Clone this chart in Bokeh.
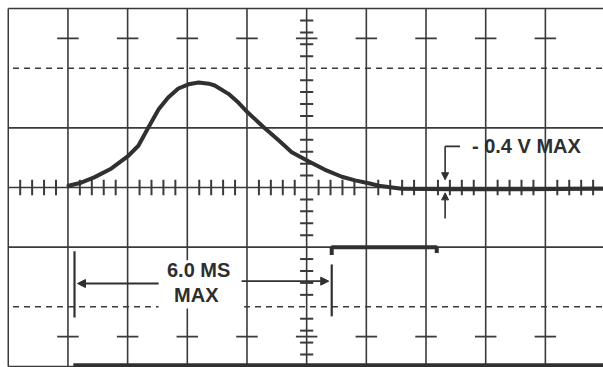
import numpy as np
from bokeh.plotting import figure
from bokeh.models import Arrow, NormalHead
from bokeh.core.properties import value
from bokeh.embed import file_html
from bokeh.resources import INLINE

# --- waveform (x, y in graticule divisions) ---
pulse_x = [1.01, 1.22, 1.44, 1.73, 2.00, 2.18, 2.35, 2.52, 2.68, 2.85, 3.02, 3.19, 3.36,
           3.46, 3.69, 3.86, 4.01, 4.28, 4.53, 4.75, 5.03, 5.30, 5.59, 5.81, 6.04, 6.21,
           6.59, 7.43, 8.61, 9.78, 9.98]
pulse_y = [0.03, 0.08, 0.17, 0.32, 0.52, 0.70, 1.01, 1.31, 1.51, 1.66, 1.73, 1.76, 1.74,
           1.71, 1.57, 1.42, 1.26, 1.01, 0.79, 0.59, 0.44, 0.30, 0.18, 0.12, 0.07, 0.03,
           -0.02, -0.03, -0.03, -0.02, -0.02]

# gate trace (lower) and bottom trace
gate_x = [5.42, 5.42, 7.18, 7.18]
gate_y = [-1.13, -1.0, -1.0, -1.1]
bottom_x = [1.09, 9.98]
bottom_y = [-2.98, -2.98]

# graticule
major_x = [1, 2, 3, 4, 5, 6, 7, 8, 9]
major_y_solid = [1, 0, -1]
dashed_y = [2, -2]
cross_y = [2.5, -2.5]

# annotation labels
label_pulse = ["6.0 MS", "MAX"]
label_pulse_x = [3.19, 3.15]
label_pulse_y = [-1.39, -1.81]
label_volt = ["- 0.4 V MAX"]
label_volt_x = [7.77]
label_volt_y = [0.70]

GRID = "#3a3a3a"
TRACE = "#303030"

p = figure(width=603, height=367, x_range=(-0.13, 9.974), y_range=(-3.018, 3.135),
           output_backend="svg", toolbar_location=None, min_border=0)
p.axis.visible = False
p.grid.visible = False
p.outline_line_color = None
p.background_fill_color = "white"
p.border_fill_color = "white"

# borders
p.segment(x0=[0], y0=[-3], x1=[0], y1=[3], line_color=GRID, line_width=1.5)
p.segment(x0=[0], y0=[3], x1=[10], y1=[3], line_color=GRID, line_width=1.5)
p.segment(x0=[0], y0=[-3], x1=[10], y1=[-3], line_color=GRID, line_width=1.5)

# vertical grid lines
p.segment(x0=major_x, y0=[-3] * len(major_x), x1=major_x, y1=[3] * len(major_x),
          line_color=GRID, line_width=1.6)
# horizontal solid grid lines
p.segment(x0=[0] * 3, y0=major_y_solid, x1=[10] * 3, y1=major_y_solid,
          line_color=GRID, line_width=1.6)
# dashed lines
p.segment(x0=[0.08] * 2, y0=dashed_y, x1=[10] * 2, y1=dashed_y,
          line_color=GRID, line_width=1.6, line_dash="6 5")

# crosses at +-2.5
cx = []
cy = []
for yy in cross_y:
    for xx in major_x:
        cx.append(xx)
        cy.append(yy)
p.segment(x0=[c - 0.18 for c in cx], y0=cy, x1=[c + 0.18 for c in cx], y1=cy,
          line_color=GRID, line_width=1.8)

# minor ticks on center horizontal axis
mt = [round(v, 1) for v in np.arange(0.2, 9.81, 0.2) if abs(v - round(v)) > 0.05]
p.segment(x0=mt, y0=[-0.13] * len(mt), x1=mt, y1=[0.13] * len(mt),
          line_color=GRID, line_width=2)
# minor ticks on center vertical axis
mv = [round(v, 1) for v in np.arange(-2.8, 2.81, 0.2) if abs(v - round(v)) > 0.05]
p.segment(x0=[4.89] * len(mv), y0=mv, x1=[5.11] * len(mv), y1=mv,
          line_color=GRID, line_width=2)

# white box behind label
p.quad(left=[2.52], right=[3.95], bottom=[-2.03], top=[-1.22],
       fill_color="white", line_color=None)

# traces
p.line(pulse_x, pulse_y, line_color=TRACE, line_width=4, line_join="round", line_cap="round")
p.line(gate_x, gate_y, line_color=TRACE, line_width=4)
p.line(bottom_x, bottom_y, line_color=TRACE, line_width=4)

# markers for 6.0 ms
p.segment(x0=[1.11, 5.42], y0=[-1.07, -1.29], x1=[1.11, 5.42], y1=[-2.18, -2.16],
          line_color=TRACE, line_width=2.2)
p.add_layout(Arrow(end=NormalHead(size=8, fill_color=TRACE, line_color=TRACE),
                   x_start=2.52, y_start=-1.61, x_end=1.16, y_end=-1.61,
                   line_color=TRACE, line_width=1.8))
p.add_layout(Arrow(end=NormalHead(size=8, fill_color=TRACE, line_color=TRACE),
                   x_start=3.91, y_start=-1.57, x_end=5.37, y_end=-1.57,
                   line_color=TRACE, line_width=1.8))

# 0.4 V bracket
p.segment(x0=[7.32], y0=[0.69], x1=[7.57], y1=[0.69], line_color=TRACE, line_width=1.8)
p.add_layout(Arrow(end=NormalHead(size=7, fill_color=TRACE, line_color=TRACE),
                   x_start=7.32, y_start=0.69, x_end=7.32, y_end=0.13,
                   line_color=TRACE, line_width=1.6))
p.add_layout(Arrow(end=NormalHead(size=7, fill_color=TRACE, line_color=TRACE),
                   x_start=7.32, y_start=-0.52, x_end=7.32, y_end=-0.09,
                   line_color=TRACE, line_width=1.6))

p.text(x=label_pulse_x, y=label_pulse_y, text=label_pulse, text_align="center",
       text_baseline="middle", text_font=value("Liberation Sans"), text_font_style="bold",
       text_font_size="20px", text_color="#2e2e2e")
p.text(x=label_volt_x, y=label_volt_y, text=label_volt, text_align="left",
       text_baseline="middle", text_font=value("Liberation Sans"), text_font_style="bold",
       text_font_size="20px", text_color="#2e2e2e")

open("out.html", "w").write(file_html(p, INLINE))
